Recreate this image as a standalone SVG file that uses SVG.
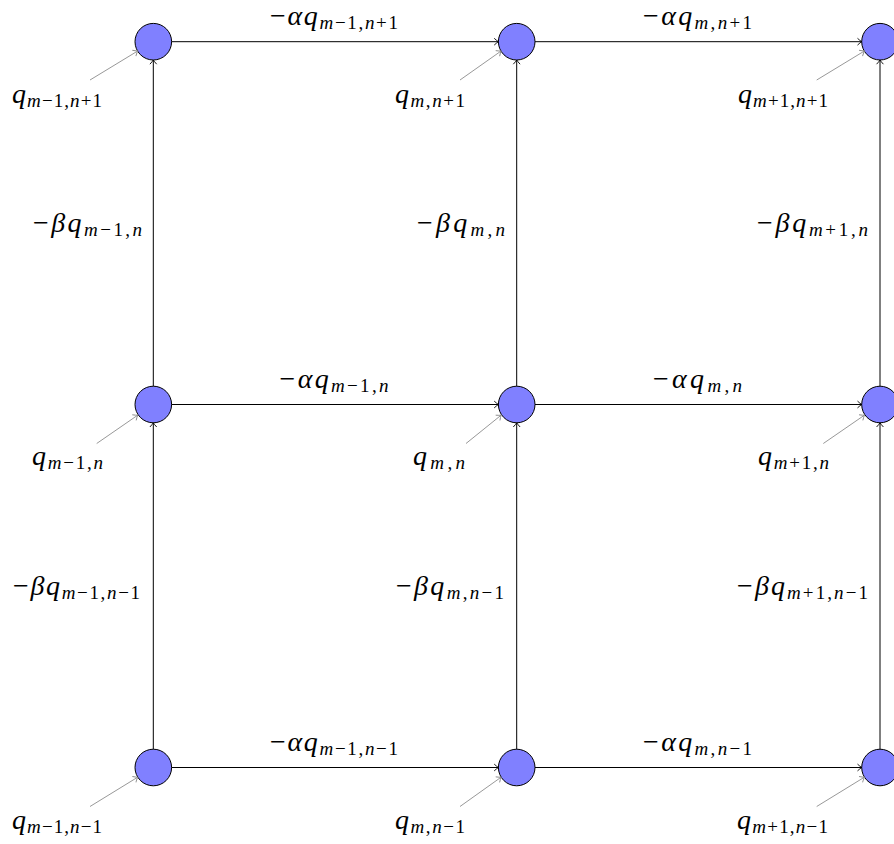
<svg xmlns="http://www.w3.org/2000/svg" width="894" height="844" viewBox="0 0 894 844">
<style>
.bg{fill:#ffffff}
.node{fill:#8080ff;stroke:#000;stroke-width:1}
.edge{stroke:#000;stroke-width:1;fill:none}
.inp{stroke:#8c8c8c;stroke-width:0.9;fill:none}
.t{font-family:"Liberation Serif","DejaVu Serif",serif;font-size:28px;fill:#000}
.i{font-style:italic}
.s{font-size:19px}
</style>
<defs>
<marker id="ah" markerUnits="userSpaceOnUse" markerWidth="12" markerHeight="12" viewBox="-6 -6 12 12" refX="0" refY="0" orient="auto">
<path d="M-4.2,-3.4 Q-1.5,-0.9 0,0 Q-1.5,0.9 -4.2,3.4" fill="none" stroke="#000" stroke-width="0.9"/>
</marker>
<marker id="ahg" markerUnits="userSpaceOnUse" markerWidth="12" markerHeight="12" viewBox="-6 -6 12 12" refX="0" refY="0" orient="auto">
<path d="M-4.2,-3.4 Q-1.5,-0.9 0,0 Q-1.5,0.9 -4.2,3.4" fill="none" stroke="#8c8c8c" stroke-width="0.9"/>
</marker>
</defs>
<rect class="bg" x="0" y="0" width="894" height="844"/>

<g id="n_tl"><circle class="node" cx="153.3" cy="41.7" r="18.3"/></g>
<g id="n_tm"><circle class="node" cx="516.7" cy="41.7" r="18.3"/></g>
<g id="n_tr"><circle class="node" cx="880" cy="41.7" r="18.3"/></g>
<g id="n_ml"><circle class="node" cx="153.3" cy="404.5" r="18.3"/></g>
<g id="n_mm"><circle class="node" cx="516.7" cy="404.5" r="18.3"/></g>
<g id="n_mr"><circle class="node" cx="880" cy="404.5" r="18.3"/></g>
<g id="n_bl"><circle class="node" cx="153.3" cy="767.5" r="18.3"/></g>
<g id="n_bm"><circle class="node" cx="516.7" cy="767.5" r="18.3"/></g>
<g id="n_br"><circle class="node" cx="880" cy="767.5" r="18.3"/></g>

<g id="inputs">
<text class="t" x="12" y="103" textLength="90"><tspan class="i">q</tspan><tspan class="s" dy="3.5"><tspan class="i">m</tspan>−1,<tspan class="i">n</tspan>+1</tspan></text>
<text class="t" x="395" y="103" textLength="70"><tspan class="i">q</tspan><tspan class="s" dy="3.5"><tspan class="i">m</tspan>,<tspan class="i">n</tspan>+1</tspan></text>
<text class="t" x="738" y="103" textLength="90"><tspan class="i">q</tspan><tspan class="s" dy="3.5"><tspan class="i">m</tspan>+1,<tspan class="i">n</tspan>+1</tspan></text>
<text class="t" x="32" y="465" textLength="71"><tspan class="i">q</tspan><tspan class="s" dy="3.5"><tspan class="i">m</tspan>−1,<tspan class="i">n</tspan></tspan></text>
<text class="t" x="413" y="465" textLength="52"><tspan class="i">q</tspan><tspan class="s" dy="3.5"><tspan class="i">m</tspan>,<tspan class="i">n</tspan></tspan></text>
<text class="t" x="758" y="465" textLength="71"><tspan class="i">q</tspan><tspan class="s" dy="3.5"><tspan class="i">m</tspan>+1,<tspan class="i">n</tspan></tspan></text>
<text class="t" x="12" y="829" textLength="90"><tspan class="i">q</tspan><tspan class="s" dy="3.5"><tspan class="i">m</tspan>−1,<tspan class="i">n</tspan>−1</tspan></text>
<text class="t" x="395" y="829" textLength="70"><tspan class="i">q</tspan><tspan class="s" dy="3.5"><tspan class="i">m</tspan>,<tspan class="i">n</tspan>−1</tspan></text>
<text class="t" x="737" y="829" textLength="91"><tspan class="i">q</tspan><tspan class="s" dy="3.5"><tspan class="i">m</tspan>+1,<tspan class="i">n</tspan>−1</tspan></text>
</g>

<g id="connectors">
<line class="edge" x1="171.6" y1="41.7" x2="498.4" y2="41.7" marker-end="url(#ah)"/>
<line class="edge" x1="535" y1="41.7" x2="861.7" y2="41.7" marker-end="url(#ah)"/>
<line class="edge" x1="171.6" y1="404.5" x2="498.4" y2="404.5" marker-end="url(#ah)"/>
<line class="edge" x1="535" y1="404.5" x2="861.7" y2="404.5" marker-end="url(#ah)"/>
<line class="edge" x1="171.6" y1="767.5" x2="498.4" y2="767.5" marker-end="url(#ah)"/>
<line class="edge" x1="535" y1="767.5" x2="861.7" y2="767.5" marker-end="url(#ah)"/>
<line class="edge" x1="153.3" y1="749.2" x2="153.3" y2="422.8" marker-end="url(#ah)"/>
<line class="edge" x1="153.3" y1="386.2" x2="153.3" y2="60" marker-end="url(#ah)"/>
<line class="edge" x1="516.7" y1="749.2" x2="516.7" y2="422.8" marker-end="url(#ah)"/>
<line class="edge" x1="516.7" y1="386.2" x2="516.7" y2="60" marker-end="url(#ah)"/>
<line class="edge" x1="880" y1="749.2" x2="880" y2="422.8" marker-end="url(#ah)"/>
<line class="edge" x1="880" y1="386.2" x2="880" y2="60" marker-end="url(#ah)"/>

<line class="inp" x1="90" y1="80" x2="137.7" y2="51" marker-end="url(#ahg)"/>
<line class="inp" x1="460" y1="80" x2="501.1" y2="51" marker-end="url(#ahg)"/>
<line class="inp" x1="816.7" y1="80" x2="864.4" y2="51" marker-end="url(#ahg)"/>
<line class="inp" x1="96.7" y1="443.5" x2="137.7" y2="415.2" marker-end="url(#ahg)"/>
<line class="inp" x1="466" y1="443.5" x2="501.1" y2="415.2" marker-end="url(#ahg)"/>
<line class="inp" x1="823.3" y1="443.5" x2="864.4" y2="415.2" marker-end="url(#ahg)"/>
<line class="inp" x1="90" y1="806.5" x2="137.7" y2="777.2" marker-end="url(#ahg)"/>
<line class="inp" x1="460" y1="806.5" x2="501.1" y2="777.2" marker-end="url(#ahg)"/>
<line class="inp" x1="816.7" y1="806.5" x2="864.4" y2="777.2" marker-end="url(#ahg)"/>

<text class="t" x="334" y="25" text-anchor="middle" textLength="128">−<tspan class="i">αq</tspan><tspan class="s" dy="3.5"><tspan class="i">m</tspan>−1,<tspan class="i">n</tspan>+1</tspan></text>
<text class="t" x="697.5" y="25" text-anchor="middle" textLength="109">−<tspan class="i">αq</tspan><tspan class="s" dy="3.5"><tspan class="i">m</tspan>,<tspan class="i">n</tspan>+1</tspan></text>
<text class="t" x="334" y="388" text-anchor="middle" textLength="109">−<tspan class="i">αq</tspan><tspan class="s" dy="3.5"><tspan class="i">m</tspan>−1,<tspan class="i">n</tspan></tspan></text>
<text class="t" x="697.5" y="388" text-anchor="middle" textLength="89">−<tspan class="i">αq</tspan><tspan class="s" dy="3.5"><tspan class="i">m</tspan>,<tspan class="i">n</tspan></tspan></text>
<text class="t" x="334" y="751" text-anchor="middle" textLength="128">−<tspan class="i">αq</tspan><tspan class="s" dy="3.5"><tspan class="i">m</tspan>−1,<tspan class="i">n</tspan>−1</tspan></text>
<text class="t" x="697.5" y="751" text-anchor="middle" textLength="109">−<tspan class="i">αq</tspan><tspan class="s" dy="3.5"><tspan class="i">m</tspan>,<tspan class="i">n</tspan>−1</tspan></text>

<text class="t" x="142" y="232" text-anchor="end" textLength="109">−<tspan class="i">βq</tspan><tspan class="s" dy="3.5"><tspan class="i">m</tspan>−1,<tspan class="i">n</tspan></tspan></text>
<text class="t" x="505" y="232" text-anchor="end" textLength="88">−<tspan class="i">βq</tspan><tspan class="s" dy="3.5"><tspan class="i">m</tspan>,<tspan class="i">n</tspan></tspan></text>
<text class="t" x="868" y="232" text-anchor="end" textLength="111">−<tspan class="i">βq</tspan><tspan class="s" dy="3.5"><tspan class="i">m</tspan>+1,<tspan class="i">n</tspan></tspan></text>
<text class="t" x="140" y="595" text-anchor="end" textLength="127">−<tspan class="i">βq</tspan><tspan class="s" dy="3.5"><tspan class="i">m</tspan>−1,<tspan class="i">n</tspan>−1</tspan></text>
<text class="t" x="504" y="595" text-anchor="end" textLength="108">−<tspan class="i">βq</tspan><tspan class="s" dy="3.5"><tspan class="i">m</tspan>,<tspan class="i">n</tspan>−1</tspan></text>
<text class="t" x="868" y="595" text-anchor="end" textLength="131">−<tspan class="i">βq</tspan><tspan class="s" dy="3.5"><tspan class="i">m</tspan>+1,<tspan class="i">n</tspan>−1</tspan></text>
</g>
</svg>
